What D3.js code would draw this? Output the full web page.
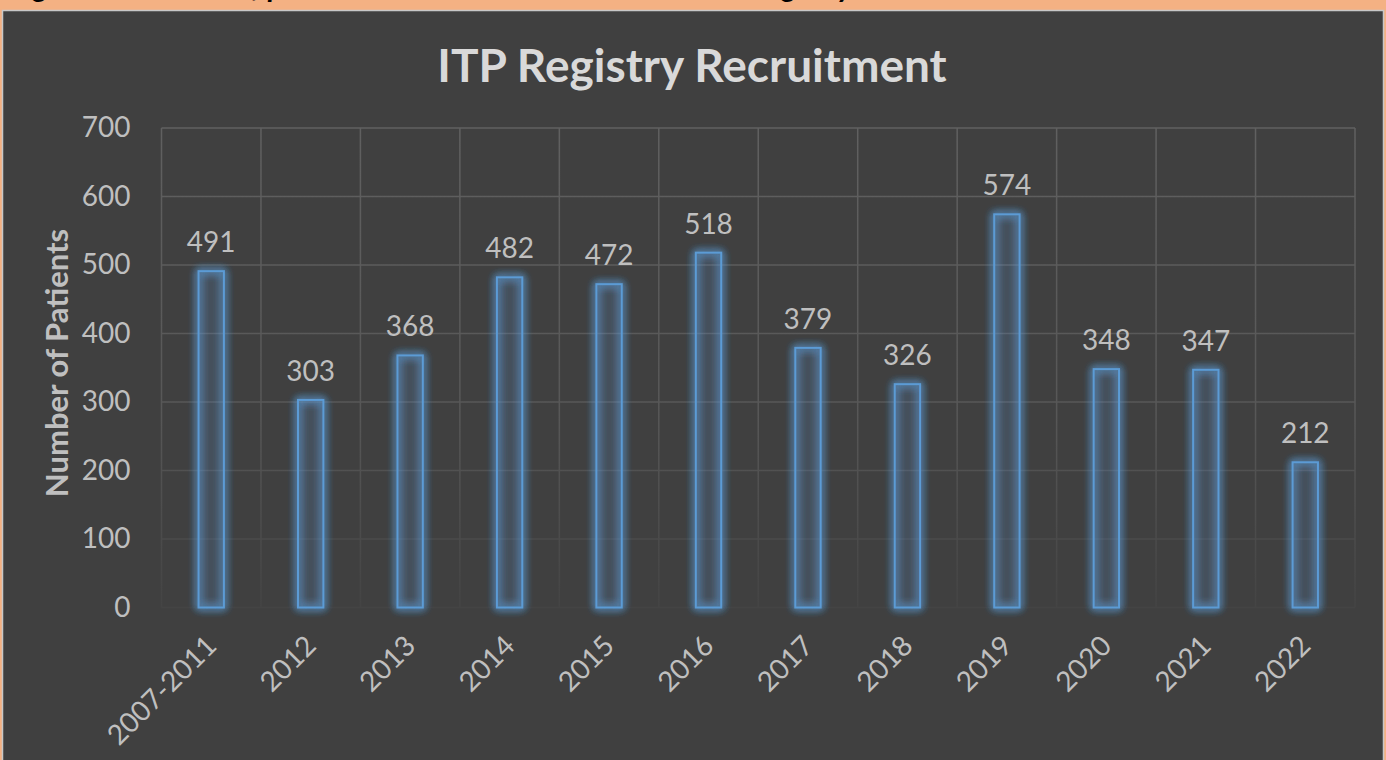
<!DOCTYPE html>
<html>
<head>
<meta charset="utf-8">
<script src="https://cdn.jsdelivr.net/npm/d3@7"></script>
<style>
  html, body { margin: 0; padding: 0; background: #f4b183; overflow: hidden; }
  text { font-family: Lato, "Open Sans", sans-serif; }
</style>
</head>
<body>
<svg id="chart"></svg>
<script>
// chart data
const categories = ["2007-2011", "2012", "2013", "2014", "2015", "2016", "2017", "2018", "2019", "2020", "2021", "2022"];
const patients = [491, 303, 368, 482, 472, 518, 379, 326, 574, 348, 347, 212];
const yTicks = [0, 100, 200, 300, 400, 500, 600, 700];
const chartTitle = "ITP Registry Recruitment";
const yTitle = "Number of Patients";
const captionText = "Figure 1: Number of patients recruited to the UK Adult ITP Registry";

const width = 1386;
const height = 760;
const margin = { top: 128, right: 31, bottom: 152.5, left: 161.5 };

const svg = d3.select("#chart")
    .attr("width", width)
    .attr("height", height);

// peach page + cut off caption above the chart
svg.append("rect")
    .attr("width", width).attr("height", height)
    .attr("fill", "#f4b183");

svg.append("text")
    .attr("x", 10)
    .attr("y", -3)
    .attr("fill", "#000")
    .style("font-weight", "bold")
    .style("font-style", "italic")
    .style("font-size", "30px")
    .text(captionText);

// dark chart panel
svg.append("rect")
    .attr("x", 2.5).attr("y", 10.5)
    .attr("width", 1381).attr("height", 760)
    .attr("fill", "#404040")
    .attr("stroke", "#c8c8c8")
    .attr("stroke-width", 1.5);

const defs = svg.append("defs");

// gridlines fade out towards the bottom
const grad = defs.append("linearGradient")
    .attr("id", "gridFade")
    .attr("gradientUnits", "userSpaceOnUse")
    .attr("x1", 0).attr("x2", 0)
    .attr("y1", margin.top).attr("y2", height - margin.bottom);
grad.append("stop").attr("offset", "0%").attr("stop-color", "#606060");
grad.append("stop").attr("offset", "60%").attr("stop-color", "#575757");
grad.append("stop").attr("offset", "100%").attr("stop-color", "#444444");

// soft blue glow around the bars
const glow = defs.append("filter")
    .attr("id", "glow")
    .attr("x", "-80%").attr("y", "-10%")
    .attr("width", "260%").attr("height", "120%");
glow.append("feGaussianBlur")
    .attr("in", "SourceGraphic")
    .attr("stdDeviation", 4)
    .attr("result", "blur");
const merge = glow.append("feMerge");
merge.append("feMergeNode").attr("in", "blur");
merge.append("feMergeNode").attr("in", "blur");
merge.append("feMergeNode").attr("in", "blur");
merge.append("feMergeNode").attr("in", "SourceGraphic");

const xScale = d3.scaleBand()
    .domain(categories)
    .range([margin.left, width - margin.right]);

const yScale = d3.scaleLinear()
    .domain([0, 700])
    .range([height - margin.bottom, margin.top]);

// horizontal gridlines
svg.append("g")
    .attr("class", "grid")
    .selectAll("line.horizontal")
    .data(yTicks)
    .enter().append("line")
    .attr("x1", margin.left)
    .attr("x2", width - margin.right)
    .attr("y1", d => yScale(d))
    .attr("y2", d => yScale(d))
    .style("stroke", "url(#gridFade)")
    .style("stroke-width", 1.5);

// vertical gridlines at the category borders
const borders = categories.map(d => xScale(d)).concat([width - margin.right]);
svg.select(".grid")
    .selectAll("line.vertical")
    .data(borders)
    .enter().append("line")
    .attr("x1", d => d)
    .attr("x2", d => d)
    .attr("y1", margin.top)
    .attr("y2", height - margin.bottom)
    .style("stroke", "url(#gridFade)")
    .style("stroke-width", 1.5);

// y axis labels
const yAxis = svg.append("g")
    .attr("transform", `translate(${margin.left},0)`)
    .call(d3.axisLeft(yScale).tickValues(yTicks).tickSize(0).tickPadding(31));
yAxis.select(".domain").remove();
yAxis.selectAll("text")
    .attr("fill", "#bfbfbf")
    .style("font-size", "28px")
    .style("font-family", "Lato, sans-serif");

// x axis labels, rotated
const xAxis = svg.append("g")
    .attr("transform", `translate(0,${height - margin.bottom})`)
    .call(d3.axisBottom(xScale).tickSize(0));
xAxis.select(".domain").remove();
xAxis.selectAll("text")
    .attr("fill", "#bfbfbf")
    .style("font-size", "28px")
    .style("font-family", "Lato, sans-serif")
    .attr("text-anchor", "end")
    .attr("dy", 0)
    .attr("y", 0)
    .attr("transform", "translate(7,40) rotate(-45)");

// bars: outlined with a glow
const barWidth = xScale.bandwidth() * 0.255;
svg.append("g")
    .selectAll(".bar")
    .data(patients)
    .enter().append("rect")
    .attr("class", "bar")
    .attr("x", (d, i) => xScale(categories[i]) + xScale.bandwidth() / 2 - barWidth / 2)
    .attr("y", d => yScale(d))
    .attr("width", barWidth)
    .attr("height", d => yScale(0) - yScale(d))
    .attr("fill", "rgba(91,155,213,0.05)")
    .attr("stroke", "#5b9bd5")
    .attr("stroke-width", 2)
    .attr("filter", "url(#glow)");

// value labels
svg.append("g")
    .selectAll(".value-label")
    .data(patients)
    .enter().append("text")
    .attr("class", "value-label")
    .attr("x", (d, i) => xScale(categories[i]) + xScale.bandwidth() / 2)
    .attr("y", d => yScale(d) - 19)
    .attr("text-anchor", "middle")
    .attr("fill", "#bfbfbf")
    .style("font-size", "28px")
    .text(d => d);

// titles
svg.append("text")
    .attr("x", 692)
    .attr("y", 82)
    .attr("text-anchor", "middle")
    .attr("fill", "#d9d9d9")
    .style("font-weight", "bold")
    .style("font-size", "46px")
    .text(chartTitle);

svg.append("text")
    .attr("transform", "translate(68,363) rotate(-90)")
    .attr("text-anchor", "middle")
    .attr("fill", "#bfbfbf")
    .style("font-weight", "bold")
    .style("font-size", "31px")
    .text(yTitle);
</script>
</body>
</html>
